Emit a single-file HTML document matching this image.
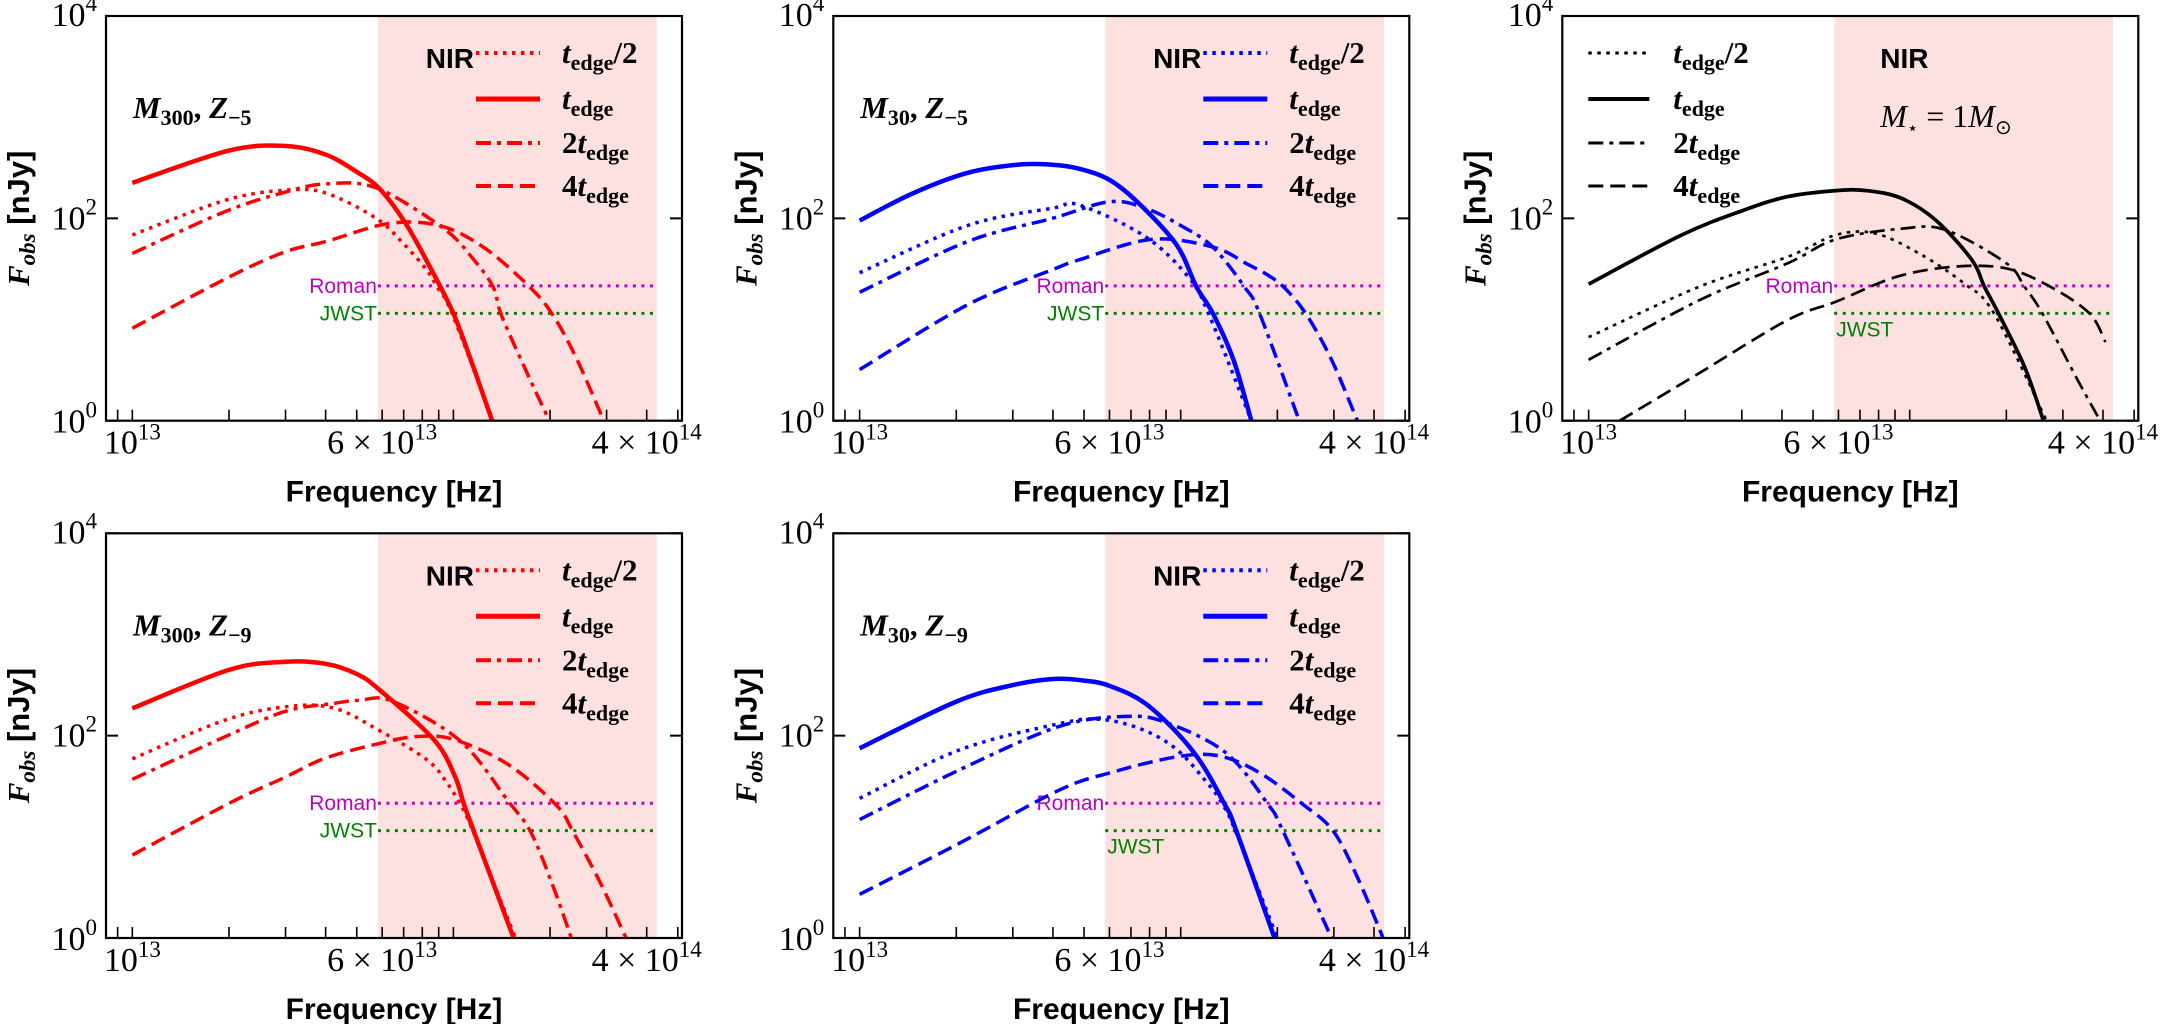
<!DOCTYPE html>
<html><head><meta charset="utf-8">
<style>
html,body{margin:0;padding:0;background:#fff;}
svg{display:block;}
.serif{font-family:"Liberation Serif",serif;}
.sans{font-family:"Liberation Sans",sans-serif;}
</style></head>
<body>
<svg id="fig" xmlns="http://www.w3.org/2000/svg" width="2169" height="1024" viewBox="0 0 2169 1024"></svg>
<script>
// ---- data: frequency in units of 1e13 Hz, flux in nJy ----
// Panel 1: M300, Z-5 (red)
const p1_half_nu=[1,1.95,3,4,5.75,7,8.25,8.9,9.9,13.3];
const p1_half_f=[68.5,151,190,178,100,56,31,21,11.5,1];
const p1_one_nu=[1,2,3,4,5,5.9,7.1,8.5,10,11.5,13.2];
const p1_one_f=[224,468,519,427,288,195,89,32,11.5,3.5,1];
const p1_two_nu=[1,1.95,3,4,5.75,9.3,11.5,13.3,14.1,16.7,19.9];
const p1_two_f=[45,117,182,219,200,80,40,21,11.1,3.3,1];
const p1_four_nu=[1,2,3,4,6.3,9.1,12.5,17.2,20.4,24.2,29.4];
const p1_four_f=[8.2,26.3,46.8,58.9,89,84.5,51,21.3,11.1,4.1,1];
// Panel 2: M30, Z-5 (blue)
const p2_half_nu=[1,2.17,3.98,4.84,7.76,10.6,12.2,16.6];
const p2_half_f=[29,85,126,135,66,26,11.5,1];
const p2_one_nu=[1,1.46,2.17,3.1,3.98,4.84,6.0,7.4,9.7,11.2,12.6,14.6,16.6];
const p2_one_f=[95,176,282,339,339,309,240,141,55,21,11.5,4,1];
const p2_two_nu=[1,2.17,3.98,6.0,7.76,10,12.6,15.8,17.6,23.4];
const p2_two_f=[18.6,59,100,146,126,85,52,21,11.5,1];
const p2_four_nu=[1,2.17,3.98,4.84,8.1,12.6,16.2,18.5,20.9,24.5,29.5,35.5];
const p2_four_f=[3.2,14,31,39,62,52,35,28,21,11.5,4,1];
// Panel 3: M* = 1 Msun (black)
const p3_half_nu=[1,2.21,4.17,5.89,7.8,10.7,14.7,18.3,26.7];
const p3_half_f=[6.7,21.1,41.7,68.5,71,45,23,11.5,1];
const p3_one_nu=[1,1.95,3.03,4.17,5.89,7.33,9.42,12.1,15.6,17.1,18.9,22.8,26.1];
const p3_one_f=[22.4,68.5,120,164,188,188,158,95,39,21,11.5,3.4,1];
const p3_two_nu=[1,2.21,4.17,5.89,9.42,12.9,20,22.8,25.9,33.4,39.2];
const p3_two_f=[4,15.5,36,62,79,77,36,21,11.5,2.5,1];
const p3_four_nu=[1.25,2.21,4.17,5.89,9.12,13.8,20,27.5,36.3,40.7];
const p3_four_f=[1,2.95,9.9,15,26.5,33.3,32,21,11.5,6];
// Panel 4: M300, Z-9 (red)
const p4_half_nu=[1,1.95,3.09,4.27,5.75,8.26,9.5,10.5,11.5,15.6];
const p4_half_f=[59,143,195,186,117,58,35,21,11.5,1];
const p4_one_nu=[1,2,3,4,5,5.9,8.7,10.1,10.8,11.6,15.4];
const p4_one_f=[186,447,537,513,407,282,91,40,20.7,11.2,1];
const p4_two_nu=[1,1.95,3,4.27,5.1,6.45,10.5,14.8,17.4,20.4,23.3];
const p4_two_f=[37,98,174,209,224,219,89,22.6,11.2,3.3,1];
const p4_four_nu=[1,2,3,4,6,7.7,10,14.8,20.9,23.6,28.7,34.5];
const p4_four_f=[6.6,21.4,39,60,85,98,92,52,20.6,11.2,3.5,1];
// Panel 5: M30, Z-9 (blue)
const p5_half_nu=[1,2.04,4.17,5.62,7.59,9.77,12.3,13.5,14.8,20];
const p5_half_f=[24,72,131,145,115,72,32,21,11.5,1];
const p5_one_nu=[1,2,3,4,4.97,6.03,7.94,11,13.7,14.9,19.6];
const p5_one_f=[75,217,316,363,351,309,197,68,21,11.5,1];
const p5_two_nu=[1,2.04,4.17,6.76,9.0,13.8,18.7,20.8,29.5];
const p5_two_f=[14.8,45.7,123,155,135,68,21,11.5,1];
const p5_four_nu=[1,2.04,4.17,6.03,9.77,13.2,17.6,24,29.8,35.5,42.7];
const p5_four_f=[2.7,8.6,28.8,43,62,63,43,21,11.5,4,1];
// detection limits (nJy), NIR band (1e13 Hz)
const romanLimit=[21.5];
const jwstLimit=[11.5];
const nirBand=[5.82,43];
const xMajorTicks=[1,10];
const xMinorTicks=[0.9,2,3,4,5,6,7,8,9,20,30,40,50];
const yTicks=[1,100,10000];
const yTickExp=["0","2","4"];

const NS="http://www.w3.org/2000/svg";
const svg=document.getElementById('fig');
function el(tag,attrs,parent){const e=document.createElementNS(NS,tag);for(const k in attrs)e.setAttribute(k,attrs[k]);(parent||svg).appendChild(e);return e;}

const W=576,H=404.7,LMIN=12.918,LMAX=14.712;
function xS(nu){return (Math.log10(nu*1e13)-LMIN)/(LMAX-LMIN)*W;}
function yS(f){return H-(Math.log10(f)/4)*H;}

function smoothPath(pts){
  let d='M'+pts[0][0].toFixed(2)+','+pts[0][1].toFixed(2);
  for(let i=0;i<pts.length-1;i++){
    const p0=pts[Math.max(0,i-1)],p1=pts[i],p2=pts[i+1],p3=pts[Math.min(pts.length-1,i+2)];
    const c1x=p1[0]+(p2[0]-p0[0])/6,c1y=p1[1]+(p2[1]-p0[1])/6;
    const c2x=p2[0]-(p3[0]-p1[0])/6,c2y=p2[1]-(p3[1]-p1[1])/6;
    d+=' C'+c1x.toFixed(2)+','+c1y.toFixed(2)+' '+c2x.toFixed(2)+','+c2y.toFixed(2)+' '+p2[0].toFixed(2)+','+p2[1].toFixed(2);
  }
  return d;
}

const styles={half:{dash:"3.5,5.5",w:3.5},one:{dash:"",w:4.5},two:{dash:"15,6,4,6",w:3.5},four:{dash:"15,7",w:3.5}};

const panels=[
 {key:'p1',x:106,y:16,color:'#ff0000',label:['300','−5'],kind:'mz',jw:'left',
  data:{half:[p1_half_nu,p1_half_f],one:[p1_one_nu,p1_one_f],two:[p1_two_nu,p1_two_f],four:[p1_four_nu,p1_four_f]}},
 {key:'p2',x:833.3,y:16,color:'#0000ff',label:['30','−5'],kind:'mz',jw:'left',
  data:{half:[p2_half_nu,p2_half_f],one:[p2_one_nu,p2_one_f],two:[p2_two_nu,p2_two_f],four:[p2_four_nu,p2_four_f]}},
 {key:'p3',x:1562.3,y:16,color:'#000000',label:null,kind:'star',jw:'below',
  data:{half:[p3_half_nu,p3_half_f],one:[p3_one_nu,p3_one_f],two:[p3_two_nu,p3_two_f],four:[p3_four_nu,p3_four_f]}},
 {key:'p4',x:106,y:533.3,color:'#ff0000',label:['300','−9'],kind:'mz',jw:'left',
  data:{half:[p4_half_nu,p4_half_f],one:[p4_one_nu,p4_one_f],two:[p4_two_nu,p4_two_f],four:[p4_four_nu,p4_four_f]}},
 {key:'p5',x:833.3,y:533.3,color:'#0000ff',label:['30','−9'],kind:'mz',jw:'below',
  data:{half:[p5_half_nu,p5_half_f],one:[p5_one_nu,p5_one_f],two:[p5_two_nu,p5_two_f],four:[p5_four_nu,p5_four_f]}}
];

function tLabel(g,x,y,prefix,suffix){
  const t=el('text',{x:x,y:y,'font-size':31,'font-weight':'bold',class:'serif',fill:'#000'},g);
  if(prefix){const a=el('tspan',{},t);a.textContent=prefix;}
  const ti=el('tspan',{'font-style':'italic'},t);ti.textContent='t';
  const s=el('tspan',{'font-size':22,dy:7},t);s.textContent='edge';
  if(suffix){const b=el('tspan',{dy:-7},t);b.textContent=suffix;}
  return t;
}

panels.forEach((p,pi)=>{
  const g=el('g',{transform:`translate(${p.x},${p.y})`});
  
  
  const clipId='clip'+pi;
  const cp=el('clipPath',{id:clipId},g);el('rect',{x:0,y:0,width:W,height:H},cp);
  const band=el('rect',{x:xS(nirBand[0]),y:0,width:xS(nirBand[1])-xS(nirBand[0]),height:H,fill:'#fde1e1'},g);
  
  
  const x0=xS(nirBand[0]),x1=xS(nirBand[1]);
  const yr=yS(romanLimit[0]),yj=yS(jwstLimit[0]);
  const rl=el('line',{x1:x0,x2:x1,y1:yr,y2:yr,stroke:'#c000c0','stroke-width':3,'stroke-dasharray':'3,5.5'},g);
  
  
  const jl=el('line',{x1:x0,x2:x1,y1:yj,y2:yj,stroke:'#008000','stroke-width':3,'stroke-dasharray':'3,5.5'},g);
  
  
  const rt=el('text',{x:x0-1,y:yr+7,'text-anchor':'end','font-size':21,fill:'#c000c0',class:'sans'},g);
  rt.textContent='Roman';
  
  
  const jt=p.jw==='left'?el('text',{x:x0-1,y:yj+7,'text-anchor':'end','font-size':21,fill:'#008000',class:'sans'},g)
                        :el('text',{x:x0+2,y:yj+23,'font-size':21,fill:'#008000',class:'sans'},g);
  jt.textContent='JWST';
  
  
  const cg=el('g',{'clip-path':`url(#${clipId})`},g);
  ['half','one','two','four'].forEach(k=>{
    const [nu,f]=p.data[k];
    const pts=nu.map((v,i)=>[xS(v),yS(f[i])]);
    const st=styles[k];
    const w=p.kind==='star'?st.w-0.8:st.w;
    const path=el('path',{d:smoothPath(pts),fill:'none',stroke:p.color,'stroke-width':w,'stroke-dasharray':st.dash,'stroke-linejoin':'round'},cg);
    
    
  });
  el('rect',{x:0,y:0,width:W,height:H,fill:'none',stroke:'#000','stroke-width':2.2},g);
  xMajorTicks.concat(xMinorTicks).forEach(v=>{const x=xS(v);if(x<0||x>W)return;el('line',{x1:x,x2:x,y1:H,y2:H-11,stroke:'#000','stroke-width':1.6},g);});
  yTicks.forEach((v,i)=>{const y=yS(v);
    el('line',{x1:0,x2:12,y1:y,y2:y,stroke:'#000','stroke-width':2},g);
    el('line',{x1:W,x2:W-12,y1:y,y2:y,stroke:'#000','stroke-width':2},g);
    const t=el('text',{x:-9,y:y+(i===0?12:i===2?10:11),'text-anchor':'end','font-size':34,class:'serif'},g);
    const a=el('tspan',{},t);a.textContent='10';
    const b=el('tspan',{'font-size':23,dy:-15},t);b.textContent=yTickExp[i];
    
    
  });
  const xl=[[1,'','13'],[6,'6 × ','13'],[40,'4 × ','14']];
  xl.forEach(([v,pre,ex])=>{
    const t=el('text',{x:xS(v),y:H+33,'text-anchor':'middle','font-size':34,class:'serif'},g);
    const a=el('tspan',{},t);a.textContent=pre+'10';
    const b=el('tspan',{'font-size':23,dy:-14},t);b.textContent=ex;
    
    
  });
  const xt=el('text',{x:W/2,y:H+81,'text-anchor':'middle','font-size':30,'font-weight':'bold',class:'sans'},g);
  xt.textContent='Frequency [Hz]';
  
  
  const yt=el('text',{x:0,y:0,transform:`translate(-77,${H/2}) rotate(-90)`,'text-anchor':'middle','font-size':31,'font-weight':'bold'},g);
  const f1=el('tspan',{'font-style':'italic','font-family':'Liberation Serif, serif'},yt);f1.textContent='F';
  const f2=el('tspan',{'font-style':'italic','font-size':23,dy:6,'font-family':'Liberation Serif, serif'},yt);f2.textContent='obs';
  const f3=el('tspan',{dy:-6,'font-family':'Liberation Sans, sans-serif'},yt);f3.textContent=' [nJy]';
  
  
  const lg=el('g',{},g);
  
  
  const rows=[['half',37,'','/2'],['one',83,'',''],['two',127,'2',''],['four',170,'4','']];
  const lx0=p.kind==='star'?26:370, lx1=p.kind==='star'?87:434, tx=p.kind==='star'?111:456;
  rows.forEach(([k,ry,pre,suf])=>{
    const st=styles[k];
    el('line',{x1:lx0,x2:lx1,y1:ry,y2:ry,stroke:p.color,'stroke-width':p.kind==='star'?st.w-0.5:st.w+0.5,'stroke-dasharray':st.dash},lg);
    tLabel(lg,tx,ry+10,pre,suf);
  });
  const nir=el('text',{x:p.kind==='star'?318:368,y:52,'text-anchor':p.kind==='star'?'start':'end','font-size':28,'font-weight':'bold',class:'sans'},g);
  nir.textContent='NIR';
  
  
  if(p.kind==='mz'){
    const t=el('text',{x:27,y:102,'font-size':31,'font-weight':'bold',class:'serif'},g);
    const a=el('tspan',{'font-style':'italic'},t);a.textContent='M';
    const b=el('tspan',{'font-size':22,dy:7},t);b.textContent=p.label[0];
    const c=el('tspan',{dy:-7},t);c.textContent=', ';
    const d=el('tspan',{'font-style':'italic'},t);d.textContent='Z';
    const e=el('tspan',{'font-size':22,dy:7},t);e.textContent=p.label[1];
    
    
  } else {
    const t=el('text',{x:318,y:111,'font-size':32,class:'serif'},g);
    const a=el('tspan',{'font-style':'italic'},t);a.textContent='M';
    const b=el('tspan',{'font-size':18,dy:7},t);b.textContent='⋆';
    const c=el('tspan',{dy:-7},t);c.textContent=' = 1';
    const d=el('tspan',{'font-style':'italic'},t);d.textContent='M';
    const e=el('tspan',{'font-size':20,dy:7},t);e.textContent='⊙';
    
    
  }
});
</script>
</body></html>
